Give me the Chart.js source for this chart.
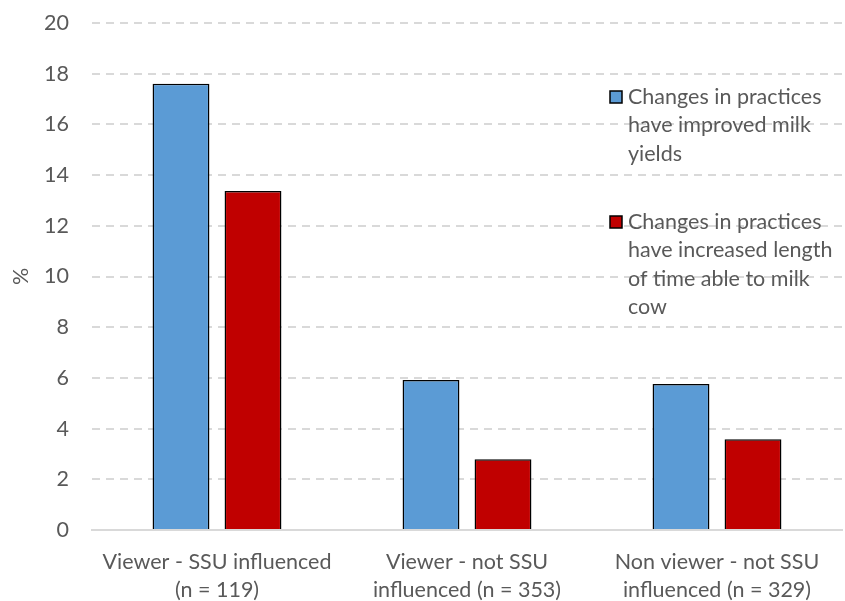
<!DOCTYPE html>
<html>
<head>
<meta charset="utf-8">
<script src="https://cdn.jsdelivr.net/npm/chart.js@4.4.1/dist/chart.umd.min.js"></script>
<style>
  html, body { margin: 0; padding: 0; background: #fff; }
  #wrap { width: 845px; height: 601px; position: relative; }
</style>
</head>
<body>
<div id="wrap"><canvas id="c" width="845" height="601"></canvas></div>
<script>
const categories = [
  ["Viewer - SSU influenced", "(n = 119)"],
  ["Viewer - not SSU", "influenced (n = 353)"],
  ["Non viewer - not SSU", "influenced (n = 329)"]
];
const seriesNames = [
  "Changes in practices have improved milk yields",
  "Changes in practices have increased length of time able to milk cow"
];
const legendLines = [
  ["Changes in practices", "have improved milk", "yields"],
  ["Changes in practices", "have increased length", "of time able to milk", "cow"]
];
const improvedYields = [17.6, 5.92, 5.76];
const increasedLength = [13.37, 2.79, 3.58];
const yTicks = [0, 2, 4, 6, 8, 10, 12, 14, 16, 18, 20];

const FONT = "Lato, 'Open Sans', sans-serif";
const FS = 21.5;
const TEXT = "#595959";
const colors = ["#5B9BD5", "#C00000"];

const overlayLegend = {
  id: "overlayLegend",
  afterDraw(chart) {
    const ctx = chart.ctx;
    ctx.save();
    ctx.font = FS + "px " + FONT;
    ctx.textBaseline = "middle";
    const starts = [97, 222];
    legendLines.forEach((lines, i) => {
      const y0 = starts[i];
      ctx.fillStyle = colors[i];
      ctx.fillRect(610, y0 - 6, 12, 12);
      ctx.strokeStyle = "#000";
      ctx.lineWidth = 1.5;
      ctx.strokeRect(610, y0 - 6, 12, 12);
      ctx.fillStyle = TEXT;
      lines.forEach((t, j) => ctx.fillText(t, 628, y0 + j * 28.5));
    });
    ctx.restore();
  }
};

new Chart(document.getElementById("c"), {
  type: "bar",
  data: {
    labels: categories,
    datasets: [
      { label: seriesNames[0], data: improvedYields, backgroundColor: colors[0], borderColor: "#000", borderWidth: 1.5 },
      { label: seriesNames[1], data: increasedLength, backgroundColor: colors[1], borderColor: "#000", borderWidth: 1.5 }
    ]
  },
  options: {
    responsive: false,
    animation: false,
    layout: { padding: { top: 23, right: 3, left: 0, bottom: 0 } },
    datasets: { bar: { categoryPercentage: 0.576, barPercentage: 0.79 } },
    plugins: {
      legend: { display: false },
      tooltip: { enabled: false }
    },
    scales: {
      x: {
        grid: { display: false },
        border: { display: true, color: "#d9d9d9", width: 2 },
        ticks: { color: TEXT, font: { family: FONT, size: FS, lineHeight: 1.3 }, padding: 10, maxRotation: 0, autoSkip: false },
        afterFit: (s) => { s.height = 71; }
      },
      y: {
        min: 0, max: 20,
        afterBuildTicks: (s) => { s.ticks = yTicks.map(v => ({ value: v })); },
        grid: { color: "#d9d9d9", lineWidth: 2, drawTicks: true, tickLength: 23, tickColor: "rgba(0,0,0,0)" },
        border: { display: false, dash: [8, 6] },
        ticks: { color: TEXT, font: { family: FONT, size: FS }, padding: 0 },
        title: { display: true, text: "%", color: TEXT, font: { family: FONT, size: FS }, padding: { top: 8, bottom: 0 } },
        afterFit: (s) => { s.width = 92; }
      }
    }
  },
  plugins: [overlayLegend]
});
</script>
</body>
</html>
